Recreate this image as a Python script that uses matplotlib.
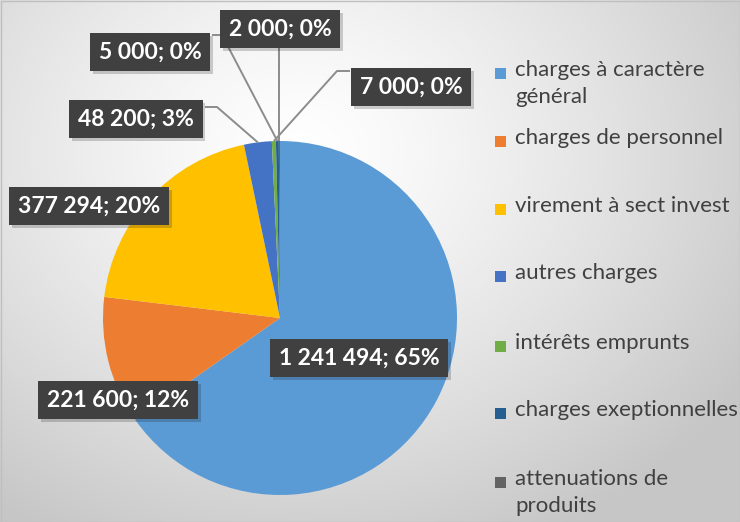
import numpy as np
import matplotlib
matplotlib.use('Agg')
import matplotlib.pyplot as plt
import matplotlib.patheffects as pe
from matplotlib.patches import Rectangle

# données du graphique
categories = ['charges à caractère\ngénéral', 'charges de personnel', 'virement à sect invest',
              'autres charges', 'intérêts emprunts', 'charges exeptionnelles',
              'attenuations de\nproduits']
values = [1241494, 221600, 377294, 48200, 7000, 5000, 2000]
colors = ['#5B9BD5', '#ED7D31', '#FFC000', '#4472C4', '#70AD47', '#255E91', '#636363']

W, H = 740, 522
FONT = 'Lato'

fig = plt.figure(figsize=(W / 100, H / 100), dpi=100)

# fond en dégradé radial (gris clair)
bg = fig.add_axes([0, 0, 1, 1], zorder=0)
yy, xx = np.mgrid[0:H, 0:W]
d = np.sqrt(((xx - 300) / 520) ** 2 + ((yy - 150) / 430) ** 2)
g = np.clip(1.0 - 0.22 * d ** 1.3, 0.78, 1.0)
bg.imshow(np.dstack([g, g, g]), extent=(0, W, 0, H), origin='upper', aspect='auto')
bg.set_xlim(0, W)
bg.set_ylim(0, H)
bg.axis('off')
bg.add_patch(Rectangle((0.5, 0.5), W - 1, H - 1, fill=False, edgecolor='#BFBFBF', lw=1))

ax = fig.add_axes([0, 0, 1, 1], zorder=1)
ax.patch.set_alpha(0)
cx, cy, r = 280, H - 318, 177
wedges, _ = ax.pie(values, colors=colors, startangle=90, counterclock=False,
                   center=(cx, cy), radius=r, wedgeprops=dict(linewidth=0))
ax.set_xlim(0, W)
ax.set_ylim(0, H)
ax.set_aspect('equal')
ax.axis('off')

total = sum(values)
labels = [f"{v:,}".replace(',', ' ') + f"; {round(v / total * 100)}%" for v in values]

# position des étiquettes (centre de la boîte, en pixels depuis le haut)
label_pos = [(359, 358), (118, 400), (89, 206), (136, 119), (411, 87), (150, 52), (280, 29)]
# lignes de rappel : (point sur la boîte, coude)
leaders = {3: [(205, 107), (217, 107)],
           4: [(350, 71), (337, 71)],
           5: [(212, 35), (222, 35)]}

for i, w in enumerate(wedges):
    if i < 3:
        continue
    mid = np.deg2rad((w.theta1 + w.theta2) / 2)
    px, py = cx + r * np.cos(mid), cy + r * np.sin(mid)
    if i in leaders:
        pts = [(px, py)] + [(x, H - y) for x, y in leaders[i][::-1]]
    else:
        pts = [(px, py), (px, H - 47)]
    xs, ys = zip(*pts)
    ax.plot(xs, ys, color='#8C8C8C', lw=1.4, zorder=3, solid_capstyle='butt')

for lab, (x, y) in zip(labels, label_pos):
    t = ax.text(x, H - y, lab, ha='center', va='center', color='white', fontsize=16.5,
                fontweight='bold', family=FONT, zorder=5,
                bbox=dict(boxstyle='square,pad=0.38', facecolor='#404040', edgecolor='none'))
    t.get_bbox_patch().set_path_effects([pe.SimplePatchShadow(offset=(2, -2), alpha=0.2),
                                         pe.Normal()])

# légende à droite
leg_y = [73, 141, 209, 276, 346, 413, 482]
for cat, col, y in zip(categories, colors, leg_y):
    bg.add_patch(Rectangle((495, H - y - 5.5), 11, 11, facecolor=col, edgecolor='none', zorder=4))
    fig.text(515 / W, 1 - (y - 13) / H, cat, ha='left', va='top', fontsize=16,
             color='#404040', family=FONT, linespacing=1.45, zorder=4)

fig.savefig('out.png', dpi=100)
